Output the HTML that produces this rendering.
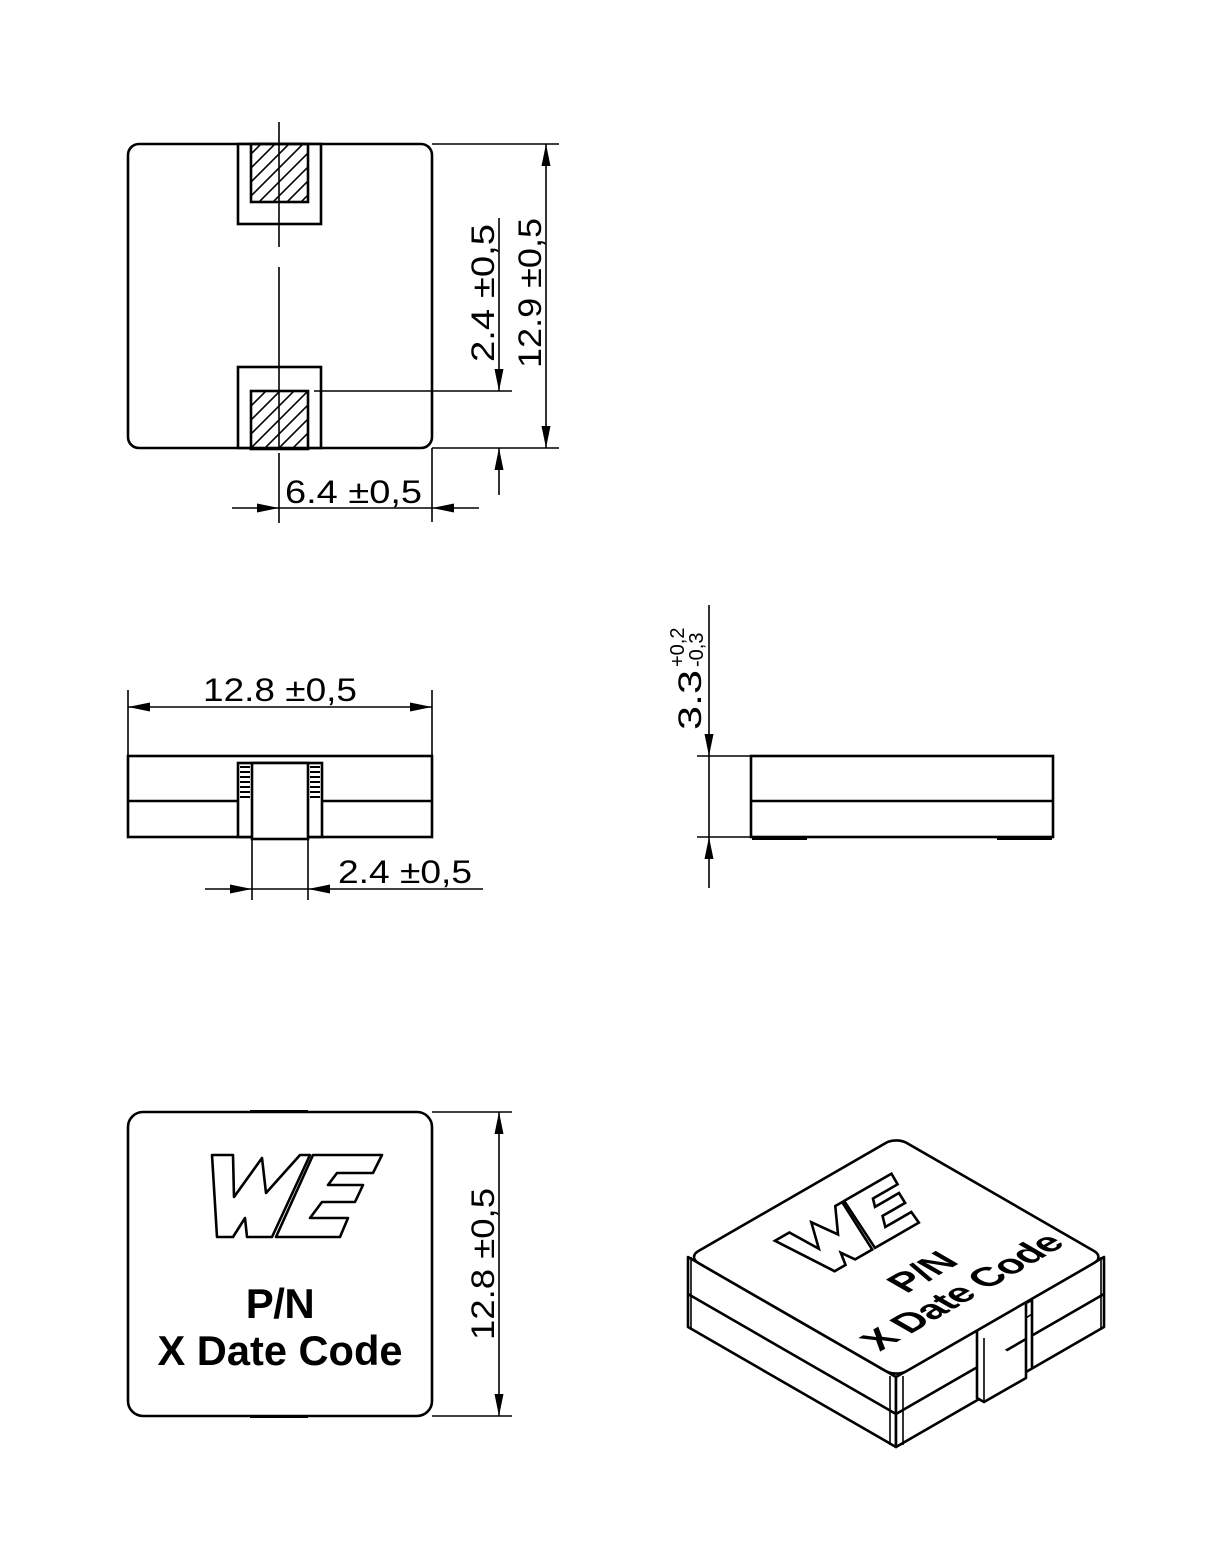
<!DOCTYPE html>
<html><head><meta charset="utf-8"><style>
html,body{margin:0;padding:0;background:#fff;}
svg{display:block;}
text{font-family:"Liberation Sans","DejaVu Sans",sans-serif;fill:#000;}
</style></head><body>
<svg width="1229" height="1558" viewBox="0 0 1229 1558" xmlns="http://www.w3.org/2000/svg">
<defs>
<marker id="ar" markerWidth="24" markerHeight="10" refX="22" refY="4.5" orient="auto" markerUnits="userSpaceOnUse"><path d="M0,0L22,4.5L0,9z" fill="#000"/></marker>
<pattern id="hat" patternUnits="userSpaceOnUse" width="14" height="14" x="251" y="0"><path d="M-2,16L16,-2M-2,2L2,-2M12,16L16,12" stroke="#000" stroke-width="1.6"/></pattern>
</defs>
<g fill="none" stroke="#000" stroke-width="1.6">
<!-- TOP VIEW -->
<rect x="128" y="144" width="304" height="304" rx="11" stroke-width="2.6" fill="#fff"/>
<rect x="238" y="144" width="83" height="80" stroke-width="2.6" fill="#fff"/>
<rect x="251" y="144" width="57" height="58" stroke-width="2.6" fill="url(#hat)"/>
<rect x="238" y="367" width="83" height="81" stroke-width="2.6" fill="#fff"/>
<rect x="251" y="391" width="57" height="58" stroke-width="2.6" fill="url(#hat)"/>
<line x1="279" y1="122" x2="279" y2="247"/>
<line x1="279" y1="267" x2="279" y2="449"/>
<line x1="279" y1="453" x2="279" y2="523"/>
<line x1="432" y1="144" x2="559" y2="144"/>
<line x1="432" y1="448" x2="559" y2="448"/>
<line x1="314" y1="391" x2="512" y2="391"/>
<line x1="432" y1="448" x2="432" y2="522"/>
<line x1="546" y1="296" x2="546" y2="144" marker-end="url(#ar)"/>
<line x1="546" y1="296" x2="546" y2="448" marker-end="url(#ar)"/>
<line x1="499" y1="218" x2="499" y2="391" marker-end="url(#ar)"/>
<line x1="499" y1="495" x2="499" y2="448" marker-end="url(#ar)"/>
<line x1="232" y1="508" x2="279" y2="508" marker-end="url(#ar)"/>
<line x1="479" y1="508" x2="432" y2="508" marker-end="url(#ar)"/>
<line x1="279" y1="508" x2="432" y2="508"/>

<!-- FRONT VIEW -->
<rect x="128" y="756" width="304" height="81" stroke-width="2.6"/>
<line x1="128" y1="801" x2="432" y2="801" stroke-width="2.6"/>
<rect x="238" y="763" width="84" height="74" stroke-width="2.6" fill="#fff"/>
<rect x="252" y="763" width="56" height="76" stroke-width="2.6" fill="#fff"/>
<path d="M240,767H250M240,772H250M240,777H250M240,782H250M240,787H250M240,792H250M240,797H250M310,767H320M310,772H320M310,777H320M310,782H320M310,787H320M310,792H320M310,797H320" stroke-width="2"/>
<line x1="128" y1="690" x2="128" y2="756"/>
<line x1="432" y1="690" x2="432" y2="756"/>
<line x1="280" y1="707" x2="128" y2="707" marker-end="url(#ar)"/>
<line x1="280" y1="707" x2="432" y2="707" marker-end="url(#ar)"/>
<line x1="252" y1="839" x2="252" y2="900"/>
<line x1="308" y1="839" x2="308" y2="900"/>
<line x1="205" y1="889" x2="252" y2="889" marker-end="url(#ar)"/>
<line x1="483" y1="889" x2="308" y2="889" marker-end="url(#ar)"/>
<line x1="252" y1="889" x2="308" y2="889"/>

<!-- SIDE VIEW -->
<rect x="751" y="756" width="302" height="81" stroke-width="2.6"/>
<line x1="751" y1="801" x2="1053" y2="801" stroke-width="2.6"/>
<path d="M752,838H807M997,838H1052" stroke-width="4"/>
<line x1="697" y1="756" x2="751" y2="756"/>
<line x1="697" y1="837" x2="751" y2="837"/>
<line x1="709" y1="605" x2="709" y2="756" marker-end="url(#ar)"/>
<line x1="709" y1="888" x2="709" y2="837" marker-end="url(#ar)"/>
<line x1="709" y1="756" x2="709" y2="837"/>

<!-- BOTTOM VIEW -->
<rect x="128" y="1112" width="304" height="304" rx="15" stroke-width="2.6"/>
<path d="M250,1111H308M250,1417H308" stroke-width="2"/>
<line x1="432" y1="1112" x2="512" y2="1112"/>
<line x1="432" y1="1416" x2="512" y2="1416"/>
<line x1="499" y1="1264" x2="499" y2="1112" marker-end="url(#ar)"/>
<line x1="499" y1="1264" x2="499" y2="1416" marker-end="url(#ar)"/>
<g stroke-width="2.6" stroke-linejoin="round">
<path d="M212,1155L233,1155L234,1197L262,1158L266,1193L300,1155L310,1155L272,1237L247,1237L245,1218L233,1237L217,1237Z"/>
<path d="M313,1155L382,1155L373,1173L337,1173L328,1185L363,1185L355,1202L322,1202L310,1218L348,1218L340,1237L276,1237Z"/>
</g>

<!-- ISO VIEW -->
<g stroke-width="2.6" stroke-linejoin="round">
<path d="M688,1257L896,1377L896,1447L688,1327Z" fill="#fff"/>
<path d="M896,1377L1104,1257L1104,1327L896,1447Z" fill="#fff"/>
<path d="M688,1294L896,1414L1104,1294"/>
<path d="M691,1257V1328M890,1376V1445M903,1376V1445M1101,1257V1328" stroke-width="1.6"/>
<path d="M977,1330L977,1398L984,1402L1026,1378L1026,1303L1032,1300L1032,1369" fill="#fff"/>
<path d="M984,1338L984,1402M1026,1318L1032,1314" stroke-width="1.6"/>
</g>
<g transform="matrix(0.685,-0.395,0.685,0.395,688,1257) translate(-128,-1112)">
<rect x="128" y="1112" width="304" height="304" rx="15" stroke-width="2.6" vector-effect="non-scaling-stroke" fill="#fff"/>
<g stroke-width="2.6">
<path vector-effect="non-scaling-stroke" d="M212,1155L233,1155L234,1197L262,1158L266,1193L300,1155L310,1155L272,1237L247,1237L245,1218L233,1237L217,1237Z"/>
<path vector-effect="non-scaling-stroke" d="M313,1155L382,1155L373,1173L337,1173L328,1185L363,1185L355,1202L322,1202L310,1218L348,1218L340,1237L276,1237Z"/>
</g>
<text x="280" y="1318" font-size="48" font-weight="bold" text-anchor="middle" stroke="none" letter-spacing="-0.5">P/N</text>
<text x="284" y="1372" font-size="48" font-weight="bold" text-anchor="middle" stroke="none" letter-spacing="-1">X Date Code</text>
</g>
</g>

<!-- TEXTS -->
<text x="285" y="503" font-size="32" textLength="137" lengthAdjust="spacingAndGlyphs">6.4 ±0,5</text>
<text transform="translate(494,362) rotate(-90)" font-size="32" textLength="138" lengthAdjust="spacingAndGlyphs">2.4 ±0,5</text>
<text transform="translate(541,368) rotate(-90)" font-size="32" textLength="150" lengthAdjust="spacingAndGlyphs">12.9 ±0,5</text>
<text x="203" y="701" font-size="32" textLength="154" lengthAdjust="spacingAndGlyphs">12.8 ±0,5</text>
<text x="338" y="883" font-size="32" textLength="134" lengthAdjust="spacingAndGlyphs">2.4 ±0,5</text>
<text transform="translate(701,730) rotate(-90)" font-size="32" textLength="60" lengthAdjust="spacingAndGlyphs">3.3</text>
<text transform="translate(684,667) rotate(-90)" font-size="20">+0,2</text>
<text transform="translate(703,667) rotate(-90)" font-size="20">-0,3</text>
<text transform="translate(494,1340) rotate(-90)" font-size="32" textLength="152" lengthAdjust="spacingAndGlyphs">12.8 ±0,5</text>
<text x="280" y="1318" font-size="42" font-weight="bold" text-anchor="middle" letter-spacing="-0.5">P/N</text>
<text x="280" y="1365" font-size="42" font-weight="bold" text-anchor="middle" textLength="245" lengthAdjust="spacingAndGlyphs">X Date Code</text>
</svg>
</body></html>
